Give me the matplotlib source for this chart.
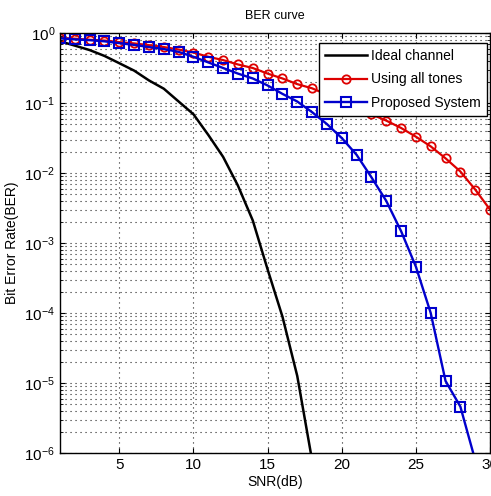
import numpy as np
import matplotlib.pyplot as plt

plt.rcParams['font.family'] = ['Liberation Sans', 'DejaVu Sans']

# SNR points (dB)
snr_ideal = np.arange(1, 19)
snr_all = np.arange(1, 31)
snr_prop = np.arange(1, 30)

# BER
ber_ideal = [0.76, 0.66, 0.57, 0.47, 0.37, 0.29, 0.21, 0.16, 0.105, 0.069,
             0.035, 0.017, 6.6e-3, 2.1e-3, 4.2e-4, 8.9e-5, 1.26e-5, 7.9e-7]
ber_all = [0.85, 0.83, 0.80, 0.78, 0.74, 0.71, 0.67, 0.63, 0.58, 0.525,
           0.457, 0.41, 0.355, 0.316, 0.263, 0.224, 0.186, 0.162, 0.132, 0.107,
           0.087, 0.069, 0.056, 0.044, 0.033, 0.024, 0.0162, 0.0105, 5.8e-3, 3.0e-3]
ber_prop = [0.84, 0.81, 0.79, 0.76, 0.716, 0.676, 0.63, 0.59, 0.537, 0.457,
            0.38, 0.316, 0.263, 0.224, 0.178, 0.135, 0.105, 0.074, 0.050, 0.0316,
            0.0182, 8.7e-3, 4.0e-3, 1.48e-3, 4.6e-4, 1.0e-4, 1.07e-5, 4.6e-6, 7.9e-7]

fig = plt.figure(figsize=(4.91, 4.96), dpi=100)
ax = fig.add_axes([0.1222, 0.0867, 0.8758, 0.8468])

ax.semilogy(snr_ideal, ber_ideal, color="black", lw=1.8, label="Ideal channel")
ax.semilogy(snr_all, ber_all, color="#dd0000", lw=1.6, marker="o", ms=6,
            mfc="none", mec="#dd0000", mew=1.3, label="Using all tones")
ax.semilogy(snr_prop, ber_prop, color="#0000cc", lw=1.7, marker="s", ms=7,
            mfc="none", mec="#0000cc", mew=1.5, label="Proposed System")

ax.set_xlim(1, 30)
ax.set_ylim(1e-6, 1)
ax.set_xticks([5, 10, 15, 20, 25, 30])
dots = (0, (1, 3.5))
ax.grid(True, which="major", ls=dots, color="#222222", lw=0.8)
ax.grid(True, which="minor", axis="y", ls=dots, color="#222222", lw=0.8)
ax.tick_params(which="both", direction="in", top=True, right=True, labelsize=11)
for s in ax.spines.values():
    s.set_linewidth(1.0)

ax.set_title("BER curve", fontsize=9, pad=10)
ax.set_xlabel("SNR(dB)", fontsize=10, labelpad=2)
ax.set_ylabel("Bit Error Rate(BER)", fontsize=10, labelpad=4)

leg = ax.legend(loc="upper right", bbox_to_anchor=(0.993, 0.976), borderaxespad=0,
                handlelength=3, fancybox=False, framealpha=1, edgecolor="black",
                borderpad=0.45, labelspacing=0.66, handletextpad=0.3, fontsize=10)
leg.get_frame().set_linewidth(1.0)

fig.savefig("out.png", dpi=100)
